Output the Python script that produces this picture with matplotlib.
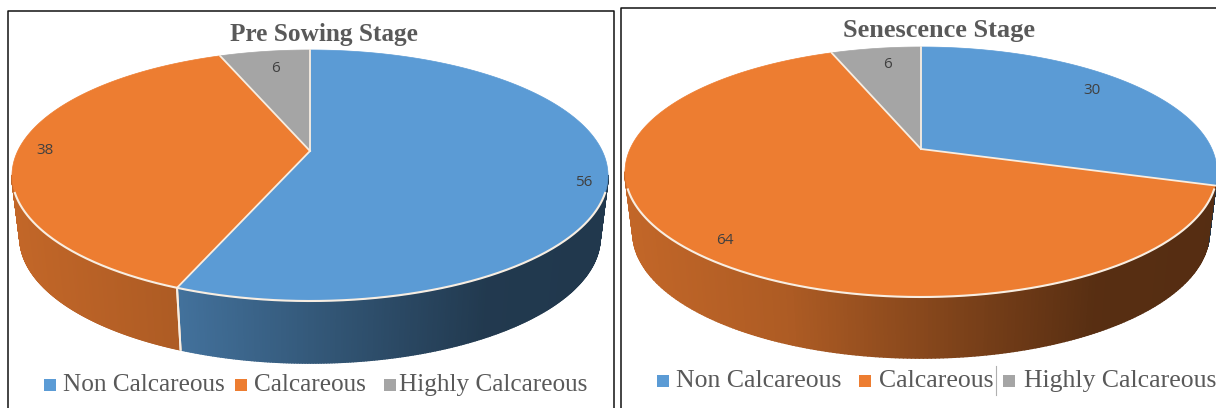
import numpy as np
import matplotlib
matplotlib.use('Agg')
import matplotlib.pyplot as plt
from matplotlib.collections import PolyCollection
from matplotlib.colors import to_rgb

categories = ['Non Calcareous', 'Calcareous', 'Highly Calcareous']
colors = ['#5b9bd5', '#ed7d31', '#a5a5a5']
titles = ['Pre Sowing Stage', 'Senescence Stage']
pre_sowing = [56, 38, 6]
senescence = [30, 64, 6]

SERIF = 'Liberation Serif'
SANS = 'Open Sans'
RIM = '#f8eee2'


def rim_angle(theta, k=0.81):
    # perspective: the apex is not the centre of the ellipse
    return 2 * np.arctan2(k * np.sin(theta / 2), np.cos(theta / 2))


def rim_xy(phi, cx, cy, rx, ry):
    return cx + rx * np.sin(phi), cy - ry * np.cos(phi)


def shade(frac):
    return np.interp(frac, [0, 0.28, 0.65, 0.8, 1], [0.82, 0.73, 0.47, 0.37, 0.36])


def pie3d(ax, values, apex_y, cx, cy, rx, ry, depth, shrink=8):
    bounds = np.cumsum([0] + values) / sum(values) * 2 * np.pi
    phis = rim_angle(bounds)

    # side wall first, lower rim a bit narrower than the top one
    for i in range(len(values)):
        lo, hi = max(phis[i], np.pi / 2), min(phis[i + 1], 3 * np.pi / 2)
        if hi <= lo:
            continue
        p = np.linspace(lo, hi, 220)
        x, y = rim_xy(p, cx, cy, rx, ry)
        xb, yb = rim_xy(p, cx, cy + depth, rx - shrink, ry)
        quads = [[(x[j], y[j]), (x[j + 1], y[j + 1]),
                  (xb[j + 1], yb[j + 1]), (xb[j], yb[j])] for j in range(len(p) - 1)]
        base = np.array(to_rgb(colors[i]))
        fr = (x[:-1] - (cx - rx)) / (2 * rx)
        cols = [tuple(base * shade(f)) for f in fr]
        ax.add_collection(PolyCollection(quads, facecolors=cols, edgecolors=cols, linewidths=1.2, zorder=2))
        for end in (lo, hi):
            # no separator right at the silhouette
            if np.radians(105) < end < np.radians(255):
                ex, ey = rim_xy(end, cx, cy, rx, ry)
                ex2, ey2 = rim_xy(end, cx, cy + depth, rx - shrink, ry)
                ax.plot([ex, ex2], [ey, ey2], color=RIM, lw=1.4, zorder=3)

    # top face
    for i in range(len(values)):
        p = np.linspace(phis[i], phis[i + 1], 200)
        x, y = rim_xy(p, cx, cy, rx, ry)
        ax.fill(np.r_[cx, x], np.r_[apex_y, y], facecolor=colors[i], edgecolor=colors[i], lw=0.5, zorder=4)

    # front rim highlight and the radial separators
    p = np.radians(np.linspace(98, 262, 300))
    ax.plot(*rim_xy(p, cx, cy, rx, ry), color=RIM, lw=1.5, zorder=5)
    for ph in phis[:-1]:
        ex, ey = rim_xy(ph, cx, cy, rx, ry)
        ax.plot([cx, ex], [apex_y, ey], color=RIM, lw=1.3, zorder=5)


fig = plt.figure(figsize=(12.16, 4.08), dpi=100)
ax = fig.add_axes([0, 0, 1, 1])
ax.set_xlim(0, 1216)
ax.set_ylim(408, 0)
ax.axis('off')

# panel frames
ax.plot([7.5, 7.5, 614, 614], [408, 10.5, 10.5, 408], color='#111111', lw=1.1, zorder=1)
ax.plot([621, 621, 1216], [408, 7.5, 7.5], color='#111111', lw=1.1, zorder=1)

pie3d(ax, pre_sowing, 151, 310, 175.5, 298, 125.5, 62)
pie3d(ax, senescence, 149, 921, 172, 296, 125, 61)

ax.text(324, 34, titles[0], family=SERIF, weight='bold', fontsize=18.2, color='#595959', ha='center', va='center', zorder=6)
ax.text(939, 31, titles[1], family=SERIF, weight='bold', fontsize=19, color='#595959', ha='center', va='center', zorder=6)

# data labels
for val, (x, y) in zip(pre_sowing, [(584, 183), (45, 150), (275, 68)]):
    ax.text(x, y, str(val), family=SANS, fontsize=11, color='#404040', ha='center', va='center', zorder=6)
for val, (x, y) in zip(senescence, [(1092, 90), (725, 241), (888, 64)]):
    ax.text(x, y, str(val), family=SANS, fontsize=11, color='#404040', ha='center', va='center', zorder=6)

# legends
for name, col, sq, tx in zip(categories, colors, [44, 235, 384], [63, 254, 399]):
    ax.scatter([sq + 6], [385], marker='s', s=72, color=col, linewidths=0, zorder=6)
    ax.text(tx, 385, name, family=SERIF, fontsize=18.2, color='#595959', ha='left', va='center', zorder=6)
for name, col, sq, tx in zip(categories, colors, [657, 859, 1003], [676, 879, 1024]):
    ax.scatter([sq + 6], [381], marker='s', s=72, color=col, linewidths=0, zorder=6)
    ax.text(tx, 381, name, family=SERIF, fontsize=18.5, color='#595959', ha='left', va='center', zorder=6)
ax.plot([996, 996], [366, 395], color='#b0b0b0', lw=0.8, zorder=6)

fig.savefig('out.png', dpi=100)
